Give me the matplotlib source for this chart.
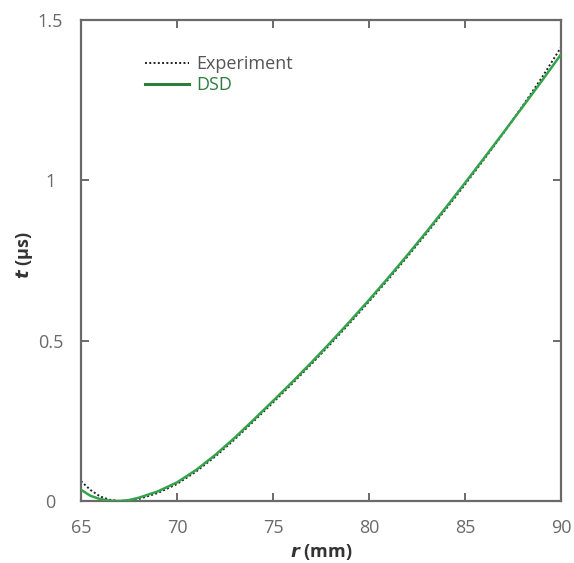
#!/usr/bin/env python3
"""Arrival time t vs radius r: experiment against DSD calculation."""
import matplotlib

matplotlib.use("Agg")
import matplotlib.pyplot as plt

GREY = "#6a6a6a"
DSD_C = "#35a24c"
DSD_TXT = "#2f7d3c"

matplotlib.rcParams.update({
    "font.family": ["Open Sans", "DejaVu Sans"],
    "font.size": 13,
})

# radius (mm)
r_mm = [65, 65.5, 66, 66.5, 67, 67.5, 68, 69, 70, 71, 72, 73, 74, 75, 76,
        77, 78, 79, 80, 81, 82, 83, 84, 85, 86, 87, 88, 89, 90]
# arrival time (us)
t_exp = [0.062, 0.034, 0.014, 0.004, 0.0, 0.001, 0.006, 0.025, 0.053,
         0.092, 0.139, 0.192, 0.249, 0.307, 0.366, 0.427, 0.490, 0.555,
         0.622, 0.691, 0.762, 0.835, 0.910, 0.987, 1.066, 1.147, 1.232,
         1.320, 1.415]
t_dsd = [0.035, 0.016, 0.006, 0.001, 0.0, 0.003, 0.010, 0.030, 0.058,
         0.097, 0.144, 0.197, 0.254, 0.312, 0.371, 0.432, 0.495, 0.560,
         0.627, 0.696, 0.767, 0.840, 0.915, 0.992, 1.070, 1.149, 1.229,
         1.310, 1.393]

x_ticks = [65, 70, 75, 80, 85, 90]
y_ticks = [0, 0.5, 1, 1.5]
y_ticklabels = ["0", "0.5", "1", "1.5"]

fig = plt.figure(figsize=(5.74, 5.63), dpi=100)
ax = fig.add_axes([0.1411, 0.1101, 0.9774 - 0.1411, 0.9645 - 0.1101])

ax.plot(r_mm, t_exp, color="#222222", linestyle=(0, (1, 1.2)), linewidth=1.4,
        label="Experiment", zorder=2)
ax.plot(r_mm, t_dsd, color=DSD_C, linewidth=1.8, label="DSD", zorder=3)

ax.set_xlim(65, 90)
ax.set_ylim(0, 1.5)
ax.set_xticks(x_ticks)
ax.set_yticks(y_ticks)
ax.set_yticklabels(y_ticklabels)

for sp in ax.spines.values():
    sp.set_color(GREY)
    sp.set_linewidth(1.6)
ax.tick_params(direction="in", length=6, width=1.4, color=GREY,
               labelcolor=GREY, top=True, right=True, labelsize=13)
ax.tick_params(axis="x", pad=13)
ax.tick_params(axis="y", pad=22)
for lab in ax.get_yticklabels():
    lab.set_horizontalalignment("center")

ax.set_xlabel(r"$\boldsymbol{r}$ (mm)", fontweight="bold", fontsize=13,
              color="#333333")
ax.set_ylabel(r"$\boldsymbol{t}$ (µs)", fontweight="bold", fontsize=13,
              color="#333333", va="center")
ax.xaxis.set_label_coords(0.5, -0.085)
ax.yaxis.set_label_coords(-0.117, 0.51)

leg = ax.legend(loc="upper left", bbox_to_anchor=(0.115, 0.945), frameon=False,
                handlelength=2.4, handletextpad=0.4, labelspacing=0.15,
                fontsize=13, borderpad=0)
texts = leg.get_texts()
texts[0].set_color("#555555")
texts[1].set_color(DSD_TXT)
leg.legend_handles[1].set_color(DSD_TXT)
leg.legend_handles[1].set_linewidth(2.2)

fig.savefig("out.png", dpi=100)
